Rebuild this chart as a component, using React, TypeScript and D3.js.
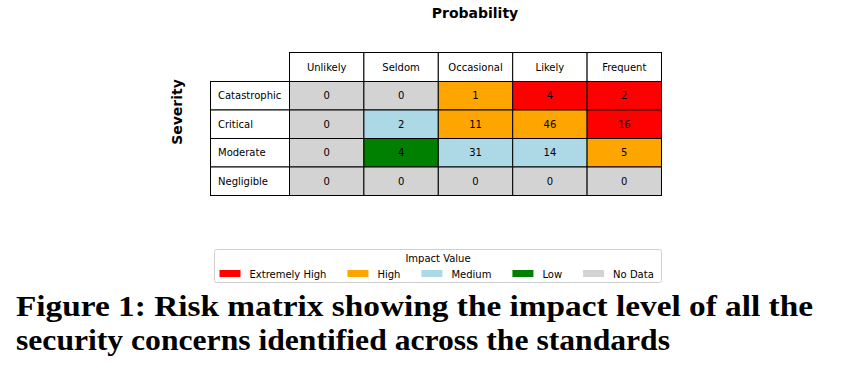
import React, { useMemo } from "react";
import * as d3 from "d3";

const probabilities = ["Unlikely", "Seldom", "Occasional", "Likely", "Frequent"];
const severities = ["Catastrophic", "Critical", "Moderate", "Negligible"];
const counts: number[][] = [
  [0, 0, 1, 4, 2],
  [0, 2, 11, 46, 16],
  [0, 4, 31, 14, 5],
  [0, 0, 0, 0, 0],
];
const impactLevels: string[][] = [
  ["No Data", "No Data", "High", "Extremely High", "Extremely High"],
  ["No Data", "Medium", "High", "High", "Extremely High"],
  ["No Data", "Low", "Medium", "Medium", "High"],
  ["No Data", "No Data", "No Data", "No Data", "No Data"],
];
const legendLabels = ["Extremely High", "High", "Medium", "Low", "No Data"];
const legendColors = ["#ff0000", "#ffa500", "#add8e6", "#008000", "#d3d3d3"];
const captionLines = [
  "Figure 1: Risk matrix showing the impact level of all the",
  "security concerns identified across the standards",
];

const W = 847;
const H = 372;
const FONT = "'DejaVu Sans', sans-serif";

export default function App() {
  const color = d3.scaleOrdinal<string, string>().domain(legendLabels).range(legendColors);

  const labelLeft = 210.5;
  const gridLeft = 289.5;
  const gridRight = 661.5;
  const headerTop = 52.5;
  const headerBottom = 81.5;
  const gridBottom = 195.5;

  const x = d3.scaleBand<string>().domain(probabilities).range([gridLeft, gridRight]);
  const y = d3.scaleBand<string>().domain(severities).range([headerBottom, gridBottom]);

  const widths = useMemo(() => {
    const c = document.createElement("canvas").getContext("2d")!;
    c.font = "10px 'DejaVu Sans'";
    return legendLabels.map((l) => c.measureText(l).width);
  }, []);

  const patchW = 21;
  const patchGap = 9;
  const colGap = 21;
  let cursor = 219.5;
  const legendPos = legendLabels.map((l, i) => {
    const p = cursor;
    cursor += patchW + patchGap + widths[i] + colGap;
    return p;
  });

  return (
    <svg
      width={W}
      height={H}
      style={{ position: "absolute", left: 0, top: 0, background: "#fff" }}
    >
      <text
        x={475}
        y={18}
        textAnchor="middle"
        fontFamily={FONT}
        fontWeight="bold"
        fontSize={14}
      >
        Probability
      </text>
      <text
        transform={`translate(182,112) rotate(-90)`}
        textAnchor="middle"
        fontFamily={FONT}
        fontWeight="bold"
        fontSize={14}
      >
        Severity
      </text>

      {probabilities.map((p) => (
        <g key={p}>
          <rect
            x={x(p)}
            y={headerTop}
            width={x.bandwidth()}
            height={headerBottom - headerTop}
            fill="#fff"
            stroke="#000"
            strokeWidth={1}
          />
          <text
            x={x(p)! + x.bandwidth() / 2}
            y={(headerTop + headerBottom) / 2}
            dy="0.35em"
            textAnchor="middle"
            fontFamily={FONT}
            fontSize={10}
          >
            {p}
          </text>
        </g>
      ))}

      {severities.map((s) => (
        <g key={s}>
          <rect
            x={labelLeft}
            y={y(s)}
            width={gridLeft - labelLeft}
            height={y.bandwidth()}
            fill="#fff"
            stroke="#000"
            strokeWidth={1}
          />
          <text
            x={labelLeft + 7.5}
            y={y(s)! + y.bandwidth() / 2}
            dy="0.35em"
            fontFamily={FONT}
            fontSize={10}
          >
            {s}
          </text>
        </g>
      ))}

      {severities.map((s, ri) =>
        probabilities.map((p, ci) => (
          <g key={s + p}>
            <rect
              x={x(p)}
              y={y(s)}
              width={x.bandwidth()}
              height={y.bandwidth()}
              fill={color(impactLevels[ri][ci])}
              stroke="#000"
              strokeWidth={1}
            />
            <text
              x={x(p)! + x.bandwidth() / 2}
              y={y(s)! + y.bandwidth() / 2}
              dy="0.35em"
              textAnchor="middle"
              fontFamily={FONT}
              fontSize={10}
            >
              {counts[ri][ci]}
            </text>
          </g>
        ))
      )}

      <rect
        x={214.5}
        y={249.5}
        width={447}
        height={33}
        rx={2}
        fill="#fff"
        stroke="#d0d0d0"
        strokeWidth={1}
      />
      <text x={438} y={262} textAnchor="middle" fontFamily={FONT} fontSize={10}>
        Impact Value
      </text>
      {legendLabels.map((l, i) => (
        <g key={l}>
          <rect x={legendPos[i]} y={270} width={patchW} height={7} fill={legendColors[i]} />
          <text
            x={legendPos[i] + patchW + patchGap}
            y={277.5}
            fontFamily={FONT}
            fontSize={10}
          >
            {l}
          </text>
        </g>
      ))}

      <text
        x={16}
        y={316}
        fontFamily="'Liberation Serif', serif"
        fontWeight="bold"
        fontSize={30}
        textLength={797}
        lengthAdjust="spacingAndGlyphs"
      >
        {captionLines[0]}
      </text>
      <text
        x={16}
        y={350}
        fontFamily="'Liberation Serif', serif"
        fontWeight="bold"
        fontSize={30}
        textLength={654}
        lengthAdjust="spacingAndGlyphs"
      >
        {captionLines[1]}
      </text>
    </svg>
  );
}
